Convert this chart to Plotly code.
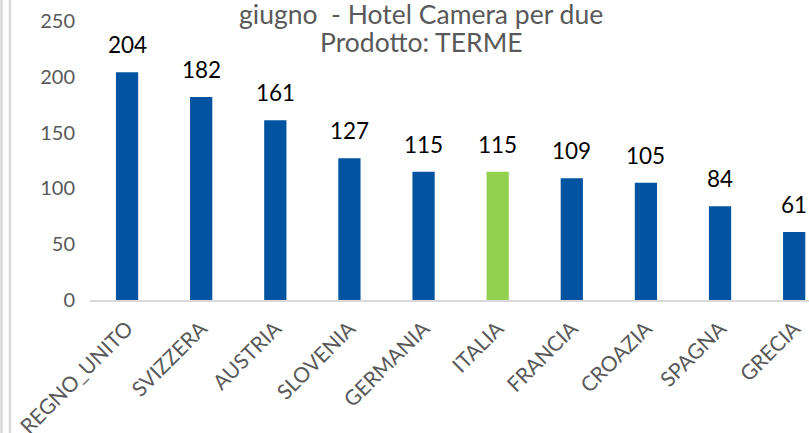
import plotly.graph_objects as go

categories = ["REGNO_UNITO", "SVIZZERA", "AUSTRIA", "SLOVENIA", "GERMANIA",
              "ITALIA", "FRANCIA", "CROAZIA", "SPAGNA", "GRECIA"]
values = [204, 182, 161, 127, 115, 115, 109, 105, 84, 61]
highlight = "ITALIA"
y_ticks = [0, 50, 100, 150, 200, 250]
title_line1 = "giugno  - Hotel Camera per due"
title_line2 = "Prodotto: TERME"

BLUE = "#0254A1"
GREEN = "#92D050"
FONT = "Lato, 'Open Sans', sans-serif"

W, H = 809, 433
L, T, B = 90, 20.5, 132.5
PW = W - L

colors = [GREEN if c == highlight else BLUE for c in categories]

fig = go.Figure()
fig.add_trace(go.Bar(
    x=categories, y=values, marker=dict(color=colors, line=dict(width=0)),
    width=0.3, hoverinfo="skip",
))

for c, v in zip(categories, values):
    fig.add_annotation(x=c, y=v, text=str(v), showarrow=False,
                       yanchor="bottom", yshift=12,
                       font=dict(family=FONT, size=22.5, color="#000000"))

TX = (421 - L) / PW
fig.add_annotation(xref="paper", yref="paper", x=TX, y=1,
                   yshift=T - 13, text=title_line1.replace("  ", "&nbsp; "),
                   showarrow=False, xanchor="center", yanchor="middle",
                   font=dict(family=FONT, size=26.5, color="#595959"))
fig.add_annotation(xref="paper", yref="paper", x=TX, y=1,
                   yshift=T - 41, text=title_line2, showarrow=False,
                   xanchor="center", yanchor="middle",
                   font=dict(family=FONT, size=26.5, color="#595959"))

for px in (1.5, 10):
    fig.add_shape(type="line", xref="paper", yref="paper",
                  x0=(px - L) / PW, x1=(px - L) / PW, y0=-10, y1=10,
                  line=dict(color="#D9D9D9", width=2.5))

fig.update_layout(
    width=W, height=H,
    margin=dict(l=L, r=0, t=T, b=B, autoexpand=False),
    paper_bgcolor="white", plot_bgcolor="white",
    showlegend=False,
    font=dict(family=FONT, color="#595959"),
    xaxis=dict(range=[-0.5, 9.2], showgrid=False, showline=True,
               linecolor="#D9D9D9", linewidth=2, ticks="", automargin=False,
               ticklabelstandoff=6,
               tickangle=-45, tickfont=dict(size=21, color="#595959")),
    yaxis=dict(range=[0, 250], tickvals=y_ticks, showgrid=False,
               zeroline=False, showline=False, ticks="", automargin=False,
               ticklabelstandoff=14,
               tickfont=dict(size=20, color="#595959")),
)

fig.write_html("out.html",
               config={"displayModeBar": False, "staticPlot": True},
               post_script="document.body.style.margin='0px';"
                           "document.body.style.overflow='hidden';")
